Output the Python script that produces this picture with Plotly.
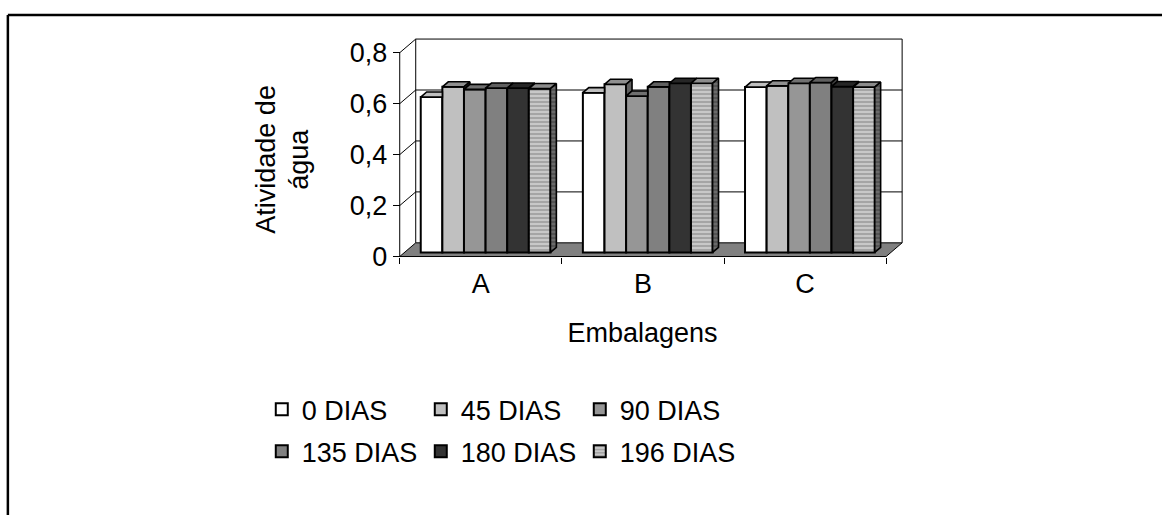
import plotly.graph_objects as go

# ---------------- data ----------------
categories = ["A", "B", "C"]
series_names = ["0 DIAS", "45 DIAS", "90 DIAS", "135 DIAS", "180 DIAS", "196 DIAS"]
dias_0 = [0.610, 0.627, 0.649]
dias_45 = [0.650, 0.660, 0.654]
dias_90 = [0.640, 0.614, 0.664]
dias_135 = [0.645, 0.650, 0.667]
dias_180 = [0.645, 0.664, 0.651]
dias_196 = [0.643, 0.664, 0.649]
y_tick_values = [0, 0.2, 0.4, 0.6, 0.8]
y_tick_labels = ["0", "0,2", "0,4", "0,6", "0,8"]
x_title = "Embalagens"
y_title_lines = ["Atividade de", "água"]

series_values = [dias_0, dias_45, dias_90, dias_135, dias_180, dias_196]

# ---------------- styles ----------------
front_colors = ["#ffffff", "#c0c0c0", "#969696", "#808080", "#333333", "#c0c0c0"]
top_colors = ["#c0c0c0", "#909090", "#707070", "#606060", "#262626", "#8c8c8c"]
side_colors = ["#808080", "#606060", "#4b4b4b", "#404040", "#1a1a1a", "#5a5a5a"]
FONT = "Liberation Sans, Arial, sans-serif"
FS = 27

# ---------------- geometry (pixels -> data units) ----------------
W, H = 1162, 515
CAT_PX = 162.2
VAL_PX = 255.0
FRONT_X_PX = 400.0
FRONT_Y_PX = 256.7
DX = 16.0 / CAT_PX
DY = 13.7 / VAL_PX
F1, F2 = 0.30, 0.67
GAP = 0.10
BAR_W = (1 - 2 * GAP) / len(series_names)
NCAT = len(categories)
YMAX = y_tick_values[-1]

x_lo, x_hi = -0.134, NCAT + DX + 0.03
y_lo, y_hi = -0.10, YMAX + DY + 0.012

ml = FRONT_X_PX + x_lo * CAT_PX
mr = W - (FRONT_X_PX + x_hi * CAT_PX)
mt = FRONT_Y_PX - y_hi * VAL_PX
mb = H - (FRONT_Y_PX - y_lo * VAL_PX)
pw = W - ml - mr
ph = H - mt - mb


def pxx(px):
    return (px - ml) / pw


def pxy(py):
    return (H - mb - py) / ph


fig = go.Figure()

a = (F2 - F1) * DX
b = (F2 - F1) * DY
y0 = F1 * DY

# front faces as bars
for s, (name, vals) in enumerate(zip(series_names, series_values)):
    marker = dict(color=front_colors[s], line=dict(color="black", width=2))
    if s == 5:
        marker["pattern"] = dict(shape="-", fgcolor="#7a7a7a", bgcolor="#c8c8c8",
                                 size=4, solidity=0.45)
    fig.add_trace(go.Bar(
        x=[i + 0.5 for i in range(NCAT)], y=vals, base=y0, width=BAR_W,
        offset=-0.5 + GAP + s * BAR_W + F1 * DX,
        name=name, marker=marker,
        legend="legend" if s < 3 else "legend2",
    ))

# top and side faces (3D effect), clipped by the neighbouring bar in front
for s, vals in enumerate(series_values):
    tx, ty, sx, sy = [], [], [], []
    for c in range(NCAT):
        x0 = c + GAP + s * BAR_W + F1 * DX
        x1 = x0 + BAR_W
        y1 = y0 + vals[c]
        nxt = y0 + series_values[s + 1][c] if s + 1 < len(series_values) else None
        # top face
        if nxt is None or nxt <= y1:
            px_ = [x0, x1, x1 + a, x0 + a, x0]
            py_ = [y1, y1, y1 + b, y1 + b, y1]
        elif nxt >= y1 + b:
            px_ = [x0, x1, x1, x0 + a, x0]
            py_ = [y1, y1, y1 + b, y1 + b, y1]
        else:
            t = (nxt - y1) / b
            px_ = [x0, x1, x1, x1 + a * t, x1 + a, x0 + a, x0]
            py_ = [y1, y1, nxt, nxt, y1 + b, y1 + b, y1]
        tx += px_ + [None]
        ty += py_ + [None]
        # side face
        if nxt is None:
            sx += [x1, x1 + a, x1 + a, x1, x1, None]
            sy += [y0, y0 + b, y1 + b, y1, y0, None]
        elif nxt < y1:
            sx += [x1, x1 + a, x1 + a, x1, x1, None]
            sy += [nxt, nxt + b, y1 + b, y1, nxt, None]
    fig.add_trace(go.Scatter(x=tx, y=ty, mode="lines", fill="toself",
                             fillcolor=top_colors[s], line=dict(color="black", width=1.6),
                             showlegend=False, hoverinfo="skip"))
    if sx:
        kw = {}
        if s == 5:
            kw["fillpattern"] = dict(shape="-", fgcolor="#3a3a3a", bgcolor="#6a6a6a",
                                     size=4, solidity=0.45)
        fig.add_trace(go.Scatter(x=sx, y=sy, mode="lines", fill="toself",
                                 fillcolor=side_colors[s], line=dict(color="black", width=1.6),
                                 showlegend=False, hoverinfo="skip", **kw))

# ---------------- frame: floor, walls, gridlines ----------------
shapes = []
ln = dict(color="black", width=1)
shapes.append(dict(type="path", xref="x", yref="y", layer="below",
                   path=f"M 0,0 L {NCAT},0 L {NCAT + DX},{DY} L {DX},{DY} Z",
                   fillcolor="#808080", line=ln))
shapes.append(dict(type="line", xref="x", yref="y", layer="below",
                   x0=DX, y0=DY, x1=DX, y1=YMAX + DY, line=ln))
shapes.append(dict(type="line", xref="x", yref="y", layer="below",
                   x0=NCAT + DX, y0=DY, x1=NCAT + DX, y1=YMAX + DY, line=ln))
for v in y_tick_values[1:]:
    shapes.append(dict(type="line", xref="x", yref="y", layer="below",
                       x0=DX, y0=v + DY, x1=NCAT + DX, y1=v + DY, line=ln))
    shapes.append(dict(type="line", xref="x", yref="y", layer="below",
                       x0=0, y0=v, x1=DX, y1=v + DY, line=ln))
shapes.append(dict(type="line", xref="x", yref="y", layer="below",
                   x0=0, y0=0, x1=0, y1=YMAX, line=ln))
# outer border of the picture
bd = dict(color="black", width=2.5)
shapes.append(dict(type="line", xref="paper", yref="paper",
                   x0=pxx(8), y0=pxy(15), x1=pxx(1175), y1=pxy(15), line=bd))
shapes.append(dict(type="line", xref="paper", yref="paper",
                   x0=pxx(8), y0=pxy(15), x1=pxx(8), y1=pxy(530), line=bd))

# y-axis title (two lines, rotated)
annotations = [
    dict(text=y_title_lines[0], xref="paper", yref="paper", x=pxx(266), y=pxy(159),
         xanchor="center", yanchor="middle", textangle=-90, showarrow=False,
         font=dict(size=FS)),
    dict(text=y_title_lines[1], xref="paper", yref="paper", x=pxx(299), y=pxy(159),
         xanchor="center", yanchor="middle", textangle=-90, showarrow=False,
         font=dict(size=FS)),
]

fig.update_layout(
    width=W, height=H,
    margin=dict(l=ml, r=mr, t=mt, b=mb, pad=0),
    paper_bgcolor="white", plot_bgcolor="white",
    font=dict(family=FONT, size=FS, color="black"),
    barmode="overlay",
    shapes=shapes,
    annotations=annotations,
    xaxis=dict(range=[x_lo, x_hi], tickmode="array", tickvals=[i + 0.5 for i in range(NCAT)],
               ticktext=categories, ticks="", showgrid=False, zeroline=False, showline=False,
               anchor="free", position=pxy(FRONT_Y_PX), ticklabelstandoff=8,
               minor=dict(tickmode="array", tickvals=list(range(NCAT + 1)), ticks="outside",
                          ticklen=6, tickwidth=1, tickcolor="black", showgrid=False),
               title=dict(text=x_title, standoff=25, font=dict(size=FS))),
    yaxis=dict(range=[y_lo, y_hi], tickmode="array", tickvals=y_tick_values,
               ticktext=y_tick_labels, ticks="outside", ticklen=7, tickwidth=1,
               tickcolor="black", showgrid=False, zeroline=False, showline=False,
               anchor="free", position=pxx(FRONT_X_PX)),
    legend=dict(orientation="h", x=pxx(262), xanchor="left", y=pxy(410), yanchor="middle",
                font=dict(size=FS), bgcolor="rgba(0,0,0,0)", entrywidth=114,
                traceorder="normal"),
    legend2=dict(orientation="h", x=pxx(262), xanchor="left", y=pxy(452), yanchor="middle",
                 font=dict(size=FS), bgcolor="rgba(0,0,0,0)", entrywidth=114,
                 traceorder="normal"),
)

fig.write_html("out.html")
